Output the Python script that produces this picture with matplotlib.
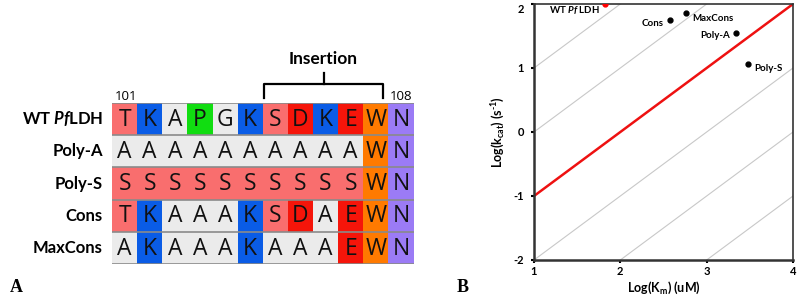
import numpy as np
import matplotlib
matplotlib.use("Agg")
import matplotlib.pyplot as plt
from matplotlib.patches import Rectangle

plt.rcParams['font.family'] = ['Lato', 'DejaVu Sans']
plt.rcParams['mathtext.fontset'] = 'custom'
plt.rcParams['mathtext.rm'] = 'Lato:bold'
plt.rcParams['mathtext.it'] = 'Lato:bold:italic'
plt.rcParams['mathtext.bf'] = 'Lato:bold'
plt.rcParams['axes.unicode_minus'] = False

# Panel A: alignment
row_labels = ['WT $\\mathit{Pf}$LDH', 'Poly-A', 'Poly-S', 'Cons', 'MaxCons']
sequences = ['TKAPGKSDKEWN',
             'AAAAAAAAAAWN',
             'SSSSSSSSSSWN',
             'TKAAAKSDAEWN',
             'AKAAAKAAAEWN']
residue_colors = {'T': '#F96E6E', 'S': '#F96E6E', 'K': '#0A5CE6',
                  'A': '#EBEBEB', 'G': '#EBEBEB', 'P': '#11DD11',
                  'D': '#F5150A', 'E': '#F5150A', 'W': '#FF7A00',
                  'N': '#9B7BF5'}
start_num, end_num = '101', '108'

# Panel B: kinetics
names = ['WT $\\mathit{Pf}$ LDH', 'Cons', 'MaxCons', 'Poly-A', 'Poly-S']
log_km = [1.82, 2.57, 2.76, 3.34, 3.48]
log_kcat = [2.0, 1.75, 1.86, 1.55, 1.07]
pt_colors = ['red', 'black', 'black', 'black', 'black']
label_offsets = [(-5, -6, 'right'), (-6, -3, 'right'), (6, -6, 'left'),
                 (-6, -3, 'right'), (6, -5, 'left')]
gray_offsets = [0, -1, -3, -4, -5]
red_offset = -2

fig = plt.figure(figsize=(8, 2.98), dpi=100)

# ---- alignment grid
axA = fig.add_axes([112/800, (298-264.3)/298, 301.5/800, 161.6/298])
nrow, ncol = len(sequences), len(sequences[0])
for i, seq in enumerate(sequences):
    for j, ch in enumerate(seq):
        axA.add_patch(Rectangle((j, i), 1, 1, facecolor=residue_colors[ch],
                                edgecolor='none'))
        axA.text(j + 0.5, i + 0.52, ch, ha='center', va='center',
                 fontsize=16.5, color='#111111', family=['Open Sans', 'DejaVu Sans'])
    axA.text(-0.36, i + 0.5, row_labels[i], ha='right', va='center',
             fontsize=12, fontweight='bold', clip_on=False)
for i in range(nrow + 1):
    axA.axhline(i, color='#8a8a8a', lw=1.2)
axA.set_xlim(0, ncol)
axA.set_ylim(nrow, 0)
axA.axis('off')

axA.text(0.1, -0.2, start_num, ha='left', va='center', fontsize=9.5,
         family=['Open Sans', 'DejaVu Sans'], clip_on=False)
axA.text(11.07, -0.2, end_num, ha='left', va='center', fontsize=9.5,
         family=['Open Sans', 'DejaVu Sans'], clip_on=False)

# bracket over insertion
bl, br, bb, bt, bm, btop = 6.05, 10.8, -0.14, -0.57, 8.42, -0.93
axA.plot([bl, bl, br, br], [bb, bt, bt, bb], color='black', lw=1.6,
         clip_on=False, solid_joinstyle='round')
axA.plot([bm, bm], [bt, btop], color='black', lw=1.6, clip_on=False)
axA.text(bm, -1.35, 'Insertion', ha='center', va='center', fontsize=12.5,
         fontweight='bold', clip_on=False)

# ---- kinetics plot
axB = fig.add_axes([534/800, (298-260)/298, 259/800, 256/298])
xx = np.array([1, 4])
for c in gray_offsets:
    axB.plot(xx, xx + c, color='#c8c8c8', lw=0.8, zorder=1)
axB.plot(xx, xx + red_offset, color='#ee1111', lw=1.8, zorder=2)
for x, y, col, name, (dx, dy, ha) in zip(log_km, log_kcat, pt_colors, names,
                                          label_offsets):
    axB.plot(x, y, 'o', color=col, ms=3.5, zorder=3)
    axB.annotate(name, (x, y), xytext=(dx, dy), textcoords='offset pixels',
                 ha=ha, va='center', fontsize=7, fontweight='bold')
axB.set_xlim(1, 4)
axB.set_ylim(-2, 2)
axB.set_xticks([1, 2, 3, 4])
axB.set_yticks([-2, -1, 0, 1, 2])
axB.tick_params(length=2, width=1.5, labelsize=8)
axB.tick_params(axis='y', pad=5)
axB.tick_params(axis='x', pad=2)
for lab in axB.get_xticklabels() + axB.get_yticklabels():
    lab.set_fontweight('bold')
axB.get_yticklabels()[-1].set_va('top')
for s in ['left', 'bottom']:
    axB.spines[s].set_linewidth(1.8)
    axB.spines[s].set_color('#333333')
for s in ['top', 'right']:
    axB.spines[s].set_linewidth(1.2)
    axB.spines[s].set_color('#333333')
axB.set_xlabel('Log(K$_{\\mathrm{m}}$) (uM)', fontsize=9, fontweight='bold',
               labelpad=2)
axB.set_ylabel('Log(k$_{\\mathrm{cat}}$) (s$^{\\text{-1}}$)', fontsize=9,
               fontweight='bold', labelpad=5)

fig.text(16/800, 1 - 288/298, 'A', ha='center', va='center', fontsize=13,
         fontweight='bold', family='Liberation Serif')
fig.text(463/800, 1 - 288/298, 'B', ha='center', va='center', fontsize=13,
         fontweight='bold', family='Liberation Serif')

fig.savefig('out.png', dpi=100)
